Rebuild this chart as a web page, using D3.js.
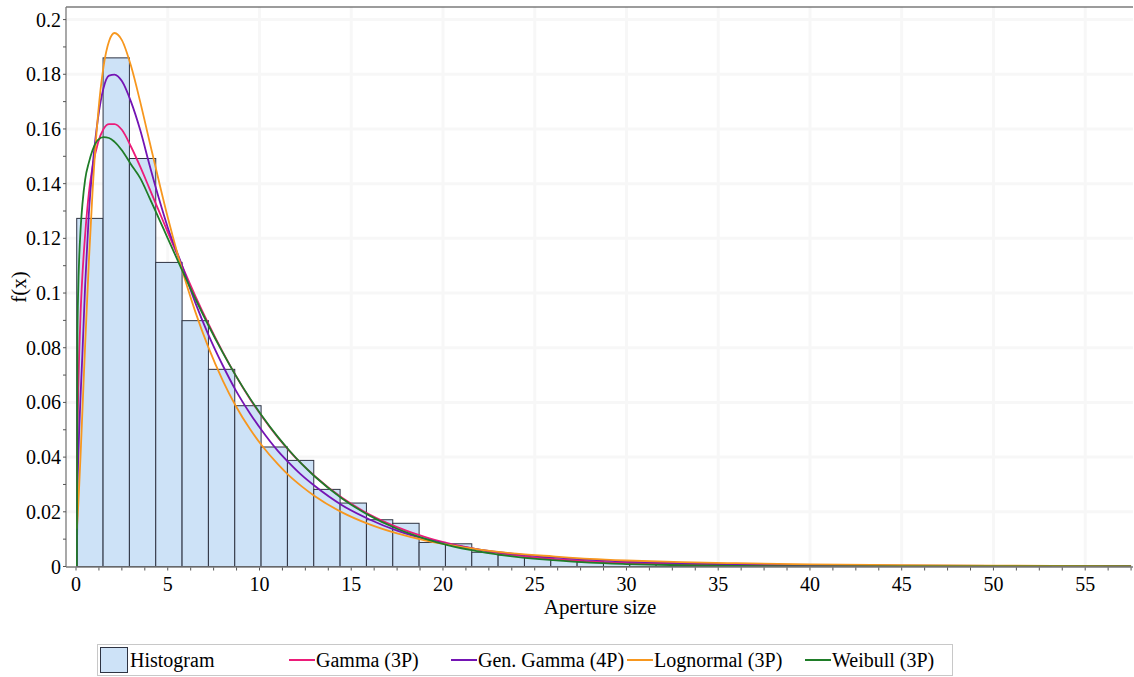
<!DOCTYPE html>
<html>
<head>
<meta charset="utf-8">
<script src="https://cdn.jsdelivr.net/npm/d3@7"></script>
<style>
  body { margin: 0; background: #fff; }
</style>
</head>
<body>
<svg id="chart" width="1134" height="677"></svg>
<script>
// Histogram of aperture sizes: equal-width bins starting at binStart
const binStart = 0.04;
const binWidth = 1.4353;
const histogram = [0.1273, 0.1860, 0.1492, 0.1112, 0.0899, 0.0721, 0.0588, 0.0437, 0.0388, 0.0282,
                   0.0232, 0.0171, 0.0158, 0.0088, 0.0083, 0.0052, 0.0042, 0.0032, 0.0023, 0.0017,
                   0.0014, 0.0013, 0.0010, 0.0009, 0.0008, 0.0006, 0.0006, 0.0005, 0.0004, 0.0003,
                   0.0003, 0.0002, 0.0002, 0.0001, 0.0001, 0.0001, 0.0001, 0, 0, 0.0001];

// Fitted density curves, sampled at curveX
const curveX = [0.05, 0.08, 0.12, 0.18, 0.25, 0.35, 0.5, 0.7, 0.9, 1.2,
                1.5, 1.8, 2.1, 2.5, 3.0, 3.5, 4.0, 4.5, 5.0, 5.7,
                6.5, 7.2, 8.0, 8.7, 9.5, 10.1, 11, 11.6, 12.3, 13,
                14.5, 16, 17.5, 19, 20.2, 22, 24, 26, 28, 30,
                33, 36, 40, 45, 50, 57.5];
const gamma3P = [0, 0.0450, 0.0626, 0.0791, 0.0926, 0.1066, 0.1215, 0.1365, 0.1460, 0.1550,
                 0.1600, 0.1618, 0.1618, 0.1597, 0.1535, 0.1462, 0.1383, 0.1303, 0.1223, 0.1112,
                 0.0990, 0.0890, 0.0784, 0.0699, 0.0611, 0.0552, 0.0472, 0.0425, 0.0375, 0.0331,
                 0.0251, 0.0190, 0.0144, 0.0108, 0.0086, 0.0061, 0.0041, 0.0028, 0.0019, 0.0013,
                 0.0007, 0.0004, 0.00017, 0.00006, 0.00002, 0.000004];
const genGamma4P = [0, 0.0288, 0.0391, 0.0509, 0.0626, 0.0778, 0.1030, 0.1290, 0.1460, 0.1640,
                    0.1750, 0.1795, 0.1799, 0.1775, 0.1699, 0.1596, 0.1470, 0.1350, 0.1240, 0.1115,
                    0.0965, 0.0850, 0.0735, 0.0645, 0.0558, 0.0500, 0.0423, 0.0380, 0.0334, 0.0295,
                    0.0224, 0.0172, 0.0131, 0.0101, 0.0083, 0.0062, 0.0045, 0.0033, 0.0024, 0.0018,
                    0.0012, 0.0008, 0.0005, 0.0003, 0.0002, 0.0001];
const lognormal3P = [0.0138, 0.0171, 0.0221, 0.0304, 0.0409, 0.0570, 0.0813, 0.1114, 0.1369, 0.1652,
                     0.1828, 0.1921, 0.1951, 0.1925, 0.1830, 0.1699, 0.1556, 0.1414, 0.1277, 0.1104,
                     0.0932, 0.0804, 0.0680, 0.0588, 0.0501, 0.0445, 0.0374, 0.0333, 0.0293, 0.0258,
                     0.0198, 0.0154, 0.0121, 0.0096, 0.0081, 0.0062, 0.0047, 0.0037, 0.0028, 0.0022,
                     0.0016, 0.0012, 0.00077, 0.00048, 0.00031, 0.00017];
const weibull3P = [0, 0.0855, 0.1010, 0.1138, 0.1233, 0.1325, 0.1416, 0.1477, 0.1522, 0.1560,
                   0.1570, 0.1567, 0.1553, 0.1522, 0.1470, 0.1420, 0.1349, 0.1275, 0.1200, 0.1096,
                   0.0980, 0.0884, 0.0782, 0.0699, 0.0613, 0.0554, 0.0474, 0.0426, 0.0375, 0.0330,
                   0.0249, 0.0186, 0.0138, 0.0102, 0.0079, 0.0054, 0.0035, 0.0023, 0.0014, 0.0009,
                   0.00045, 0.00022, 0.00008, 0.00002, 0.000005, 0];

const seriesNames = ["Gamma (3P)", "Gen. Gamma (4P)", "Lognormal (3P)", "Weibull (3P)"];
const xTickLabels = [0, 5, 10, 15, 20, 25, 30, 35, 40, 45, 50, 55];
const yTickLabels = [0, 0.02, 0.04, 0.06, 0.08, 0.1, 0.12, 0.14, 0.16, 0.18, 0.2];
const xTitle = "Aperture size";
const yTitle = "f(x)";

// pick the first installed Roman-style face; fall back to the default otherwise
function firstInstalled(names) {
  const ctx = document.createElement("canvas").getContext("2d");
  const probe = "mmmmmmmmmmlliWWQ0123456789";
  for (const base of ["monospace", "sans-serif"]) {
    ctx.font = `72px ${base}`;
    const ref = ctx.measureText(probe).width;
    for (const n of names) {
      ctx.font = `72px "${n}", ${base}`;
      if (Math.abs(ctx.measureText(probe).width - ref) > 0.5) return `"${n}"`;
    }
  }
  return "serif";
}
const fontFamily = firstInstalled(["Liberation Serif", "Times New Roman", "Tinos", "Nimbus Roman",
  "Nimbus Roman No9 L", "FreeSerif", "DejaVu Serif", "Noto Serif", "Times"]) + ", serif";

// ---- layout ----
const plot = { left: 66, right: 1133, top: 7, bottom: 566.5 };
const colors = ["#ec1c79", "#7414b4", "#f7971e", "#1f7d28"];
const barFill = "#cde2f7";
const barStroke = "#2e3342";
const fontSize = 20;

const svg = d3.select("#chart").attr("font-family", fontFamily);
const x = d3.scaleLinear().domain([-0.545, 57.66]).range([plot.left, 1134]);
const y = d3.scaleLinear().domain([0, 0.2046]).range([plot.bottom, plot.top]);

// plot background and faint grid
svg.append("rect").attr("x", plot.left).attr("y", plot.top)
  .attr("width", plot.right - plot.left).attr("height", plot.bottom - plot.top).attr("fill", "#fff");
const grid = svg.append("g").attr("stroke", "#f7f7f7").attr("stroke-width", 3);
grid.selectAll("line.v").data(xTickLabels.filter(d => d > 0)).join("line")
  .attr("x1", d => x(d)).attr("x2", d => x(d)).attr("y1", plot.top).attr("y2", plot.bottom);
grid.selectAll("line.h").data(yTickLabels.filter(d => d > 0)).join("line")
  .attr("y1", d => y(d)).attr("y2", d => y(d)).attr("x1", plot.left).attr("x2", plot.right);

// histogram bars
const bins = histogram.map((v, i) => ({ x0: binStart + i * binWidth, x1: binStart + (i + 1) * binWidth, v }));
svg.append("g").selectAll("rect").data(bins).join("rect")
  .attr("x", d => x(d.x0))
  .attr("width", d => x(d.x1) - x(d.x0))
  .attr("y", d => y(d.v))
  .attr("height", d => y(0) - y(d.v))
  .attr("fill", barFill)
  .attr("stroke", barStroke)
  .attr("stroke-width", 1);

// density curves
svg.append("clipPath").attr("id", "clip").append("rect")
  .attr("x", plot.left).attr("y", plot.top).attr("width", plot.right - plot.left).attr("height", plot.bottom - plot.top);
const line = d3.line().x(d => x(d[0])).y(d => y(d[1])).curve(d3.curveMonotoneX);
const series = [gamma3P, genGamma4P, lognormal3P, weibull3P];
const curves = svg.append("g").attr("clip-path", "url(#clip)");
series.forEach((vals, i) => {
  curves.append("path")
    .datum(curveX.map((cx, j) => [cx, vals[j]]))
    .attr("d", line)
    .attr("fill", "none")
    .attr("stroke", colors[i])
    .attr("stroke-width", 1.8)
    .attr("stroke-linejoin", "round");
});

// frame and axes
svg.append("line").attr("x1", plot.left).attr("x2", plot.right).attr("y1", plot.top).attr("y2", plot.top)
  .attr("stroke", "#3a3a3a").attr("stroke-width", 1.2);
svg.append("line").attr("x1", plot.left).attr("x2", plot.left).attr("y1", plot.top).attr("y2", plot.bottom + 0.5)
  .attr("stroke", "#7a7a7a").attr("stroke-width", 1.3);
svg.append("line").attr("x1", plot.left).attr("x2", plot.right).attr("y1", plot.bottom + 0.5).attr("y2", plot.bottom + 0.5)
  .attr("stroke", "#7a7a7a").attr("stroke-width", 1.3);

// x ticks every 1.25, labels every 5
const xMinor = d3.range(0, 57.6, 1.25);
svg.append("g").selectAll("line").data(xMinor).join("line")
  .attr("x1", d => x(d)).attr("x2", d => x(d))
  .attr("y1", plot.bottom + 1).attr("y2", plot.bottom + 4)
  .attr("stroke", "#555").attr("stroke-width", 1);
svg.append("g").selectAll("text").data(xTickLabels).join("text")
  .attr("x", d => x(d)).attr("y", 591)
  .attr("text-anchor", "middle").attr("font-size", fontSize)
  .text(d => d);

// y ticks every 0.01, labels every 0.02
const yMinor = d3.range(0, 0.2001, 0.01);
svg.append("g").selectAll("line").data(yMinor).join("line")
  .attr("x1", plot.left - 3).attr("x2", plot.left)
  .attr("y1", d => y(d)).attr("y2", d => y(d))
  .attr("stroke", "#555").attr("stroke-width", 1);
svg.append("g").selectAll("text").data(yTickLabels).join("text")
  .attr("x", 61).attr("y", d => y(d) + 7)
  .attr("text-anchor", "end").attr("font-size", fontSize)
  .text(d => d3.format("~g")(d));

// axis titles
svg.append("text").attr("x", 600).attr("y", 614)
  .attr("text-anchor", "middle").attr("font-size", 21).text(xTitle);
svg.append("text").attr("transform", "translate(26,287) rotate(-90)")
  .attr("text-anchor", "middle").attr("font-size", 21).text(yTitle);

// legend
const legend = svg.append("g");
legend.append("rect").attr("x", 97.5).attr("y", 644.5).attr("width", 855).attr("height", 31)
  .attr("fill", "#fff").attr("stroke", "#c8c8c8");
legend.append("rect").attr("x", 100.5).attr("y", 647.5).attr("width", 27).attr("height", 25)
  .attr("fill", barFill).attr("stroke", barStroke);
legend.append("text").attr("x", 130).attr("y", 667).attr("font-size", fontSize).text("Histogram");
const legendLineX = [289, 451, 627, 805];
seriesNames.forEach((name, i) => {
  legend.append("line").attr("x1", legendLineX[i]).attr("x2", legendLineX[i] + 26)
    .attr("y1", 660).attr("y2", 660).attr("stroke", colors[i]).attr("stroke-width", 2);
  legend.append("text").attr("x", legendLineX[i] + 27).attr("y", 667).attr("font-size", fontSize).text(name);
});
</script>
</body>
</html>
